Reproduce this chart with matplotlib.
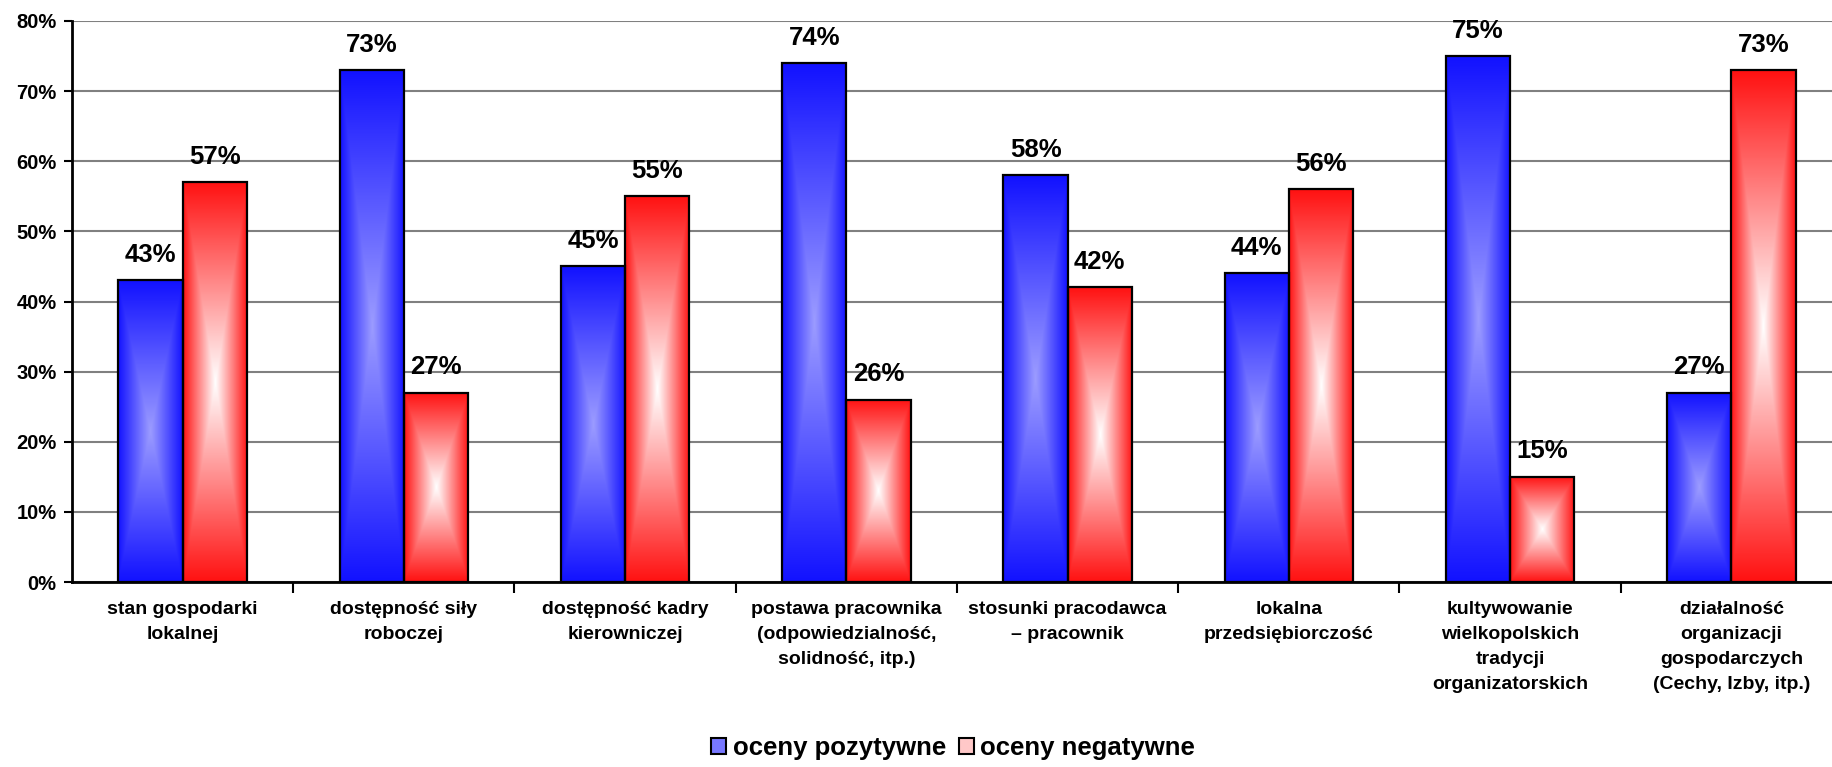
import matplotlib
matplotlib.use('Agg')
import matplotlib.pyplot as plt
import numpy as np
from matplotlib.colors import LinearSegmentedColormap
from matplotlib.patches import Rectangle, Patch

# Dane z wykresu (w procentach)
kategorie = [
    "stan gospodarki\nlokalnej",
    "dostępność siły\nroboczej",
    "dostępność kadry\nkierowniczej",
    "postawa pracownika\n(odpowiedzialność,\nsolidność, itp.)",
    "stosunki pracodawca\n– pracownik",
    "lokalna\nprzedsiębiorczość",
    "kultywowanie\nwielkopolskich\ntradycji\norganizatorskich",
    "działalność\norganizacji\ngospodarczych\n(Cechy, Izby, itp.)",
]
pozytywne = [43, 73, 45, 74, 58, 44, 75, 27]
negatywne = [57, 27, 55, 26, 42, 56, 15, 73]
serie = ["oceny pozytywne", "oceny negatywne"]
y_ticks = [0, 10, 20, 30, 40, 50, 60, 70, 80]

plt.rcParams['font.family'] = ['Liberation Sans', 'DejaVu Sans']
plt.rcParams['font.weight'] = 'bold'

W, H = 1833, 767
fig = plt.figure(figsize=(W / 100, H / 100), dpi=100)
ax = fig.add_axes([72 / W, 1 - 582 / H, 1770 / W, 561 / H])

# gradient "od srodka" jak w Excelu
u = np.linspace(-1, 1, 200)
U, V = np.meshgrid(u, u)
T = np.maximum(np.abs(U), np.abs(V))

cm_blue = LinearSegmentedColormap.from_list('niebieski', ['#9c9cff', '#1212ff'])
cm_red = LinearSegmentedColormap.from_list('czerwony', ['#ffffff', '#ff1212'])

w = 0.29
x = np.arange(len(kategorie))


def slupek(xc, h, cmap):
    x0 = xc - w / 2
    ax.imshow(T, cmap=cmap, vmin=0, vmax=1, extent=(x0, x0 + w, 0, h),
              aspect='auto', interpolation='bilinear', zorder=2)
    ax.add_patch(Rectangle((x0, 0), w, h, fill=False, edgecolor='black',
                           lw=1.6, zorder=3))
    ax.text(xc, h + 1.9, f'{h}%', ha='center', va='bottom', fontsize=18.5,
            fontweight='bold', zorder=4)


for i in range(len(kategorie)):
    slupek(x[i] - w / 2, pozytywne[i], cm_blue)
    slupek(x[i] + w / 2, negatywne[i], cm_red)

ax.set_xlim(-0.5, len(kategorie) - 0.5)
ax.set_ylim(0, 80)

ax.set_yticks(y_ticks)
ax.set_yticklabels([f'{v}%' for v in y_ticks], fontsize=14.5, fontweight='bold')
ax.yaxis.grid(True, color='#808080', lw=1.5)
ax.set_axisbelow(True)

ax.set_xticks(x)
ax.set_xticklabels(kategorie, fontsize=14, fontweight='bold', linespacing=1.6)
ax.set_xticks(np.arange(0.5, len(kategorie) - 0.5, 1), minor=True)
ax.tick_params(axis='x', which='major', length=0, pad=14)
ax.tick_params(axis='x', which='minor', length=8, width=1.5, direction='out')
ax.tick_params(axis='y', length=6, width=1.5, direction='out', pad=5)

for s in ['top', 'right']:
    ax.spines[s].set_visible(False)
for s in ['left', 'bottom']:
    ax.spines[s].set_linewidth(2)
    ax.spines[s].set_color('black')

uchwyty = [Patch(facecolor='#7878ff', edgecolor='black', lw=1.5),
           Patch(facecolor='#ffc8c8', edgecolor='black', lw=1.5)]
fig.legend(uchwyty, serie, loc='center', bbox_to_anchor=(953 / W, 1 - 748 / H),
           ncol=2, frameon=False, prop={'size': 18.5, 'weight': 'bold'},
           handlelength=0.6, handleheight=0.6, handletextpad=0.25,
           columnspacing=0.5)

fig.savefig('out.png', dpi=100)
